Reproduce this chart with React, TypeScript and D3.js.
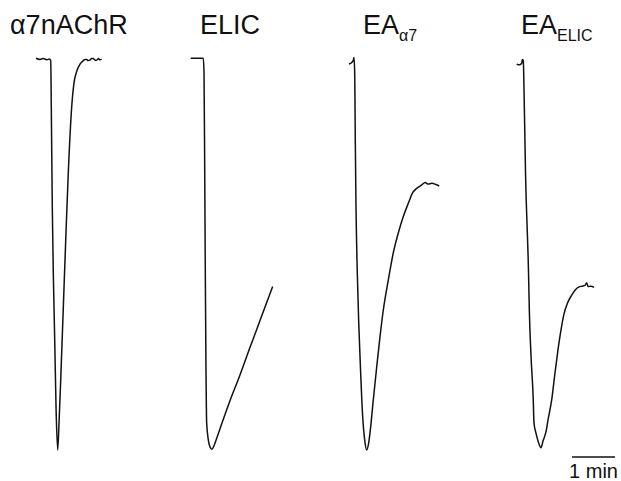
import React, { useEffect, useRef } from "react";
import * as d3 from "d3";

// panel names (main text + subscript)
const panelNames = ["α7nAChR", "ELIC", "EA", "EA"];
const panelSubs = ["", "", "α7", "ELIC"];

// traces: [time (s) from agonist onset, normalized current I/Imax]
const traceA7: [number, number][] = [
  [-19.5, 0.002], [-14.0, -0.001], [-9.8, 0.001], [-7.0, 0], [-4.2, -0.002], [-1.0, 0],
  [1.0, -0.004], [1.8, -0.122], [3.2, -0.378], [4.6, -0.547], [6.6, -0.72], [8.4, -0.889],
  [10.7, -1.0], [12.6, -0.931], [15.3, -0.803], [18.6, -0.634], [22.3, -0.445], [25.5, -0.292],
  [30.3, -0.122], [33.5, -0.061], [37.2, -0.032], [41.9, -0.013], [46.5, -0.004], [48.8, -0.001],
  [51.2, -0.001], [53.0, -0.004], [55.8, -0.003], [57.9, 0.001], [60.4, 0.001], [62.8, -0.003],
  [65.1, -0.003], [67.7, 0.001], [69.8, -0.002], [72.1, -0.001],
];
const traceElic: [number, number][] = [
  [-17.6, 0.002], [0, 0.002], [1.0, -0.036], [2.0, -0.292], [2.8, -0.548], [3.8, -0.803],
  [4.7, -0.931], [7.0, -0.974], [9.3, -0.992], [12.1, -0.998], [14.9, -0.989], [19.1, -0.968],
  [26.1, -0.931], [37.2, -0.874], [51.2, -0.808], [65.1, -0.738], [79.1, -0.669], [96.8, -0.582],
];
const traceEaA7: [number, number][] = [
  [-7.0, -0.013], [-3.2, -0.009], [-1.0, -0.003], [0, 0.004], [1.0, -0.037], [1.8, -0.207],
  [2.8, -0.378], [4.6, -0.547], [6.6, -0.675], [9.3, -0.803], [12.1, -0.915], [14.9, -0.974],
  [17.7, -1.0], [20.5, -0.982], [23.3, -0.94], [26.9, -0.872], [31.7, -0.787], [36.3, -0.71],
  [40.9, -0.642], [47.9, -0.565], [54.8, -0.496], [61.8, -0.445], [68.8, -0.403], [75.8, -0.369],
  [81.9, -0.342], [87.5, -0.331], [94.5, -0.322], [99.1, -0.316], [103.7, -0.32], [108.4, -0.318],
  [114.4, -0.321], [119.0, -0.325],
];
const traceEaElic: [number, number][] = [
  [-7.8, -0.013], [-4.2, -0.015], [-0.8, -0.011], [0, -0.001], [1.4, -0.004], [2.4, -0.079],
  [4.5, -0.292], [8.7, -0.547], [9.8, -0.642], [12.1, -0.757], [15.3, -0.872], [16.3, -0.931],
  [19.1, -0.957], [22.3, -0.979], [26.1, -0.994], [28.9, -0.977], [31.7, -0.962], [33.1, -0.953],
  [35.9, -0.923], [41.0, -0.872], [45.6, -0.803], [49.8, -0.744], [54.0, -0.693], [58.2, -0.652],
  [63.1, -0.624], [68.9, -0.604], [74.2, -0.59], [79.1, -0.583], [83.3, -0.581], [87.5, -0.579],
  [89.9, -0.572], [91.7, -0.582], [95.9, -0.581], [100.1, -0.584],
];
const traces = [traceA7, traceElic, traceEaA7, traceEaElic];

// scale bar
const scaleBarSeconds = 60;
const scaleBarLabel = "1 min";

const W = 621;
const H = 481;

export default function App() {
  const ref = useRef<SVGSVGElement>(null);

  useEffect(() => {
    const svg = d3.select(ref.current);
    svg.selectAll("*").remove();

    // layout: x position of agonist onset in each panel, title x
    const onsetX = [50, 203.3, 354, 522.3];
    const titleX = [10, 200, 363, 521];

    const t = d3.scaleLinear().domain([0, 60]).range([0, 43]);
    const y = d3.scaleLinear().domain([-1, 0]).range([450, 59]);

    traces.forEach((tr, i) => {
      const line = d3
        .line<[number, number]>()
        .x((d) => onsetX[i] + t(d[0]))
        .y((d) => y(d[1]))
        .curve(d3.curveMonotoneX);
      svg
        .append("path")
        .attr("d", line(tr))
        .attr("fill", "none")
        .attr("stroke", "#111")
        .attr("stroke-width", 1.5)
        .attr("stroke-linejoin", "round");

      const txt = svg
        .append("text")
        .attr("x", titleX[i])
        .attr("y", 34)
        .attr("font-family", "Liberation Sans, Arial, sans-serif")
        .attr("font-size", 27)
        .attr("fill", "#111");
      txt.append("tspan").text(panelNames[i]);
      if (panelSubs[i]) {
        txt
          .append("tspan")
          .attr("dy", 7)
          .attr("font-size", 16)
          .text(panelSubs[i]);
      }
    });

    // scale bar
    const x0 = 572;
    svg
      .append("line")
      .attr("x1", x0)
      .attr("x2", x0 + t(scaleBarSeconds))
      .attr("y1", 457)
      .attr("y2", 457)
      .attr("stroke", "#111")
      .attr("stroke-width", 1.5);
    svg
      .append("text")
      .attr("x", x0 + t(scaleBarSeconds) / 2)
      .attr("y", 478)
      .attr("text-anchor", "middle")
      .attr("font-family", "Liberation Sans, Arial, sans-serif")
      .attr("font-size", 20)
      .attr("fill", "#111")
      .text(scaleBarLabel);
  }, []);

  return (
    <svg
      ref={ref}
      width={W}
      height={H}
      style={{ position: "absolute", left: 0, top: 0, background: "#fff" }}
    />
  );
}
